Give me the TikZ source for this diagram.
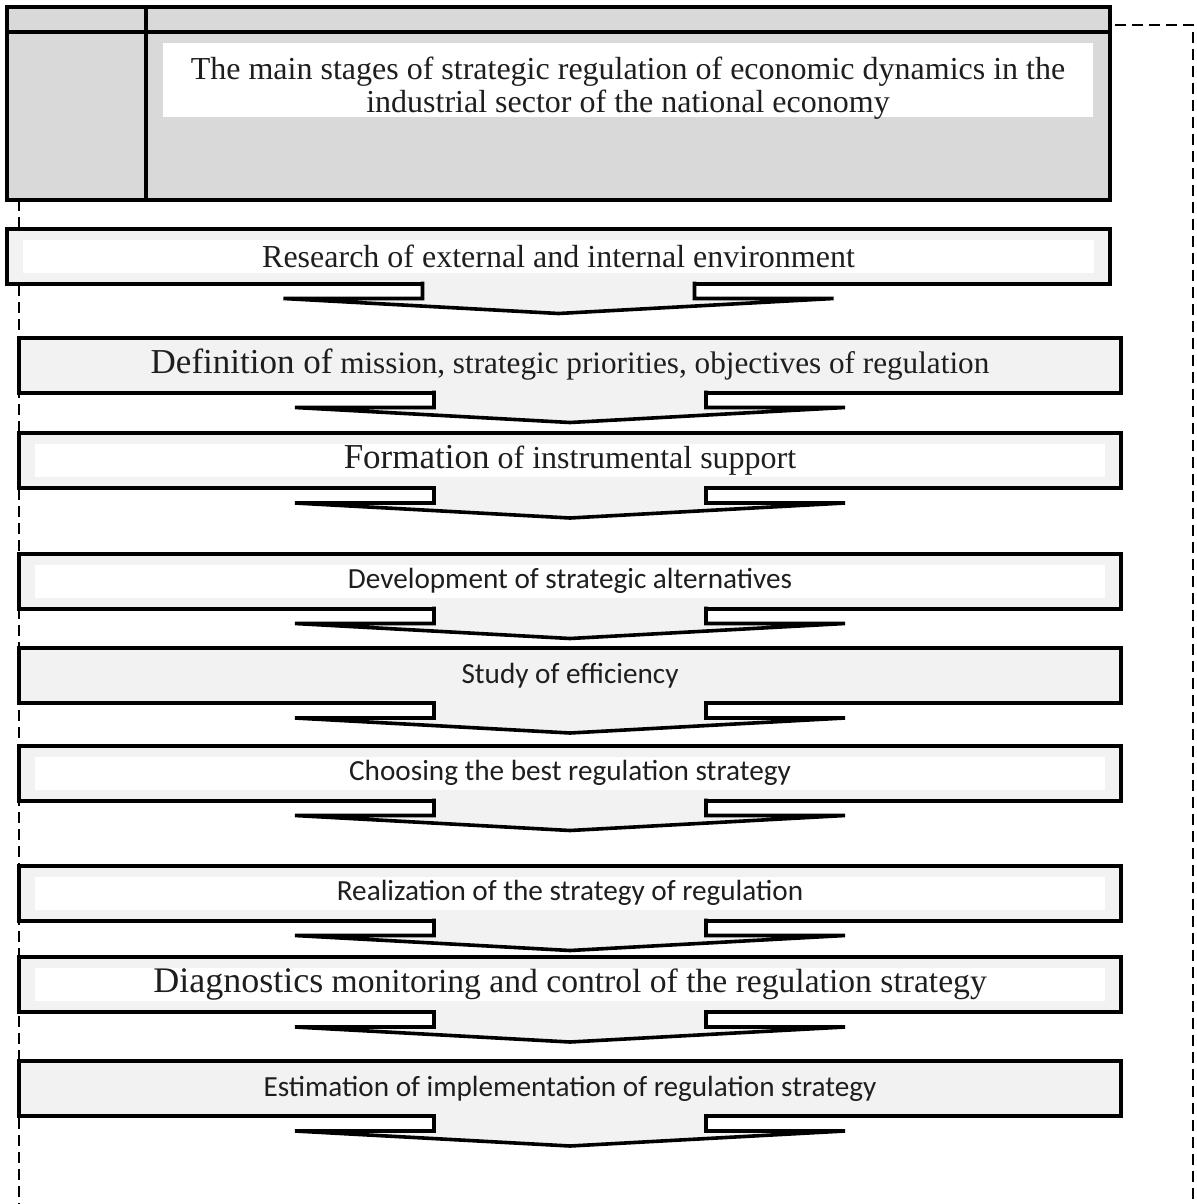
\documentclass[tikz,border=0pt]{standalone}
\usepackage{fontspec}
\setmainfont{Liberation Serif}
\newfontfamily\calibri{Carlito}
\usetikzlibrary{calc}
\definecolor{HeadGray}{HTML}{D9D9D9}
\definecolor{BoxGray}{HTML}{F2F2F2}
\definecolor{Ink}{HTML}{1E1E1E}
\tikzset{
  headbox/.style={draw, line width=2pt, fill=HeadGray, inner sep=0pt, outer sep=0pt},
  titleband/.style={fill=white, inner sep=0pt, outer sep=0pt,
    minimum width=465pt, minimum height=37pt},
  stagebox/.style={draw, line width=2pt, fill=BoxGray, inner sep=0pt, outer sep=0pt,
    minimum width=551pt, minimum height=27.5pt, align=center, text=Ink,
    font=\fontsize{16}{18}\selectfont},
  banded/.style={path picture={\fill[white]
    ([shift={(8pt,-5.5pt)}]path picture bounding box.north west) rectangle
    ([shift={(-8pt,5.5pt)}]path picture bounding box.south east);}},
  sans/.style={font=\fontsize{14.6}{17}\calibri},
  stageline/.style={line width=1.8pt, line join=miter},
  loopline/.style={dash pattern=on 5.5pt off 3pt, line width=0.8pt}
}
% arrow hanging below a stage box
\newcommand\stagearrow[1]{%
  \filldraw[stageline, fill=BoxGray] ($(#1.south)+(-136,-2)$) -- ++(0,17) -- ++(-139,0)
    -- ($(#1.south)+(0,30)$) -- ($(#1.south)+(275,15)$) -- ++(-139,0) -- ++(0,-17);
}

\begin{document}
\begin{tikzpicture}[x=0.5pt, y=-0.5pt]
  \useasboundingbox (0,0) rectangle (1196,1204);
  \coordinate (rowline) at (0,32);
  \coordinate (colline) at (146,0);
  \coordinate (loopL) at (19,1204);
  \coordinate (loopR) at (1193,1204);

  % header table
  \node[headbox, minimum width=551.5pt, minimum height=96.5pt] (head) at (558.5,103.5) {};
  \draw[line width=2pt] (head.west |- rowline) -- (head.east |- rowline);
  \draw[line width=2pt] (head.north -| colline) -- (head.south -| colline);
  \node[titleband] (band) at (628,80) {};
  \node[align=center, inner sep=0pt, text=Ink, font=\fontsize{16}{16.5}\selectfont] (title)
    at ($(band)+(0,8)$)
    {The main stages of strategic regulation of economic dynamics in the\\
     industrial sector of the national economy};

  % feedback loop
  \draw[loopline] ($(head.north east)+(5,18)$) -| (loopR);
  \draw[loopline] (head.south -| loopL) -- (loopL);

  % stages
  \node[stagebox, banded, minimum width=551.5pt] (research) at (558.5,256)
    {Research of external and internal environment};
  \node[stagebox, font=\fontsize{15.6}{18}\selectfont] (mission) at (570,365)
    {{\fontsize{17.5}{18}\selectfont Definition of} mission, strategic priorities, objectives of regulation};
  \node[stagebox, banded] (tools) at (570,460.5)
    {{\fontsize{17.5}{18}\selectfont Formation} of instrumental support};
  \node[stagebox, banded, sans] (alternatives) at (570,581)
    {Development of strategic alternatives};
  \node[stagebox, sans] (efficiency) at (570,675.5)
    {Study of efficiency};
  \node[stagebox, banded, sans] (choice) at (570,773)
    {Choosing the best regulation strategy};
  \node[stagebox, banded, sans] (realization) at (570,893)
    {Realization of the strategy of regulation};
  \node[stagebox, banded, font=\fontsize{16.8}{18}\selectfont] (control) at (570,984.5)
    {{\fontsize{18}{18}\selectfont Diagnostics} monitoring and control of the regulation strategy};
  \node[stagebox, sans] (estimation) at (570,1088.5)
    {Estimation of implementation of regulation strategy};

  \foreach \s in {research,mission,tools,alternatives,efficiency,choice,realization,control,estimation}
    \stagearrow{\s};
\end{tikzpicture}
\end{document}
